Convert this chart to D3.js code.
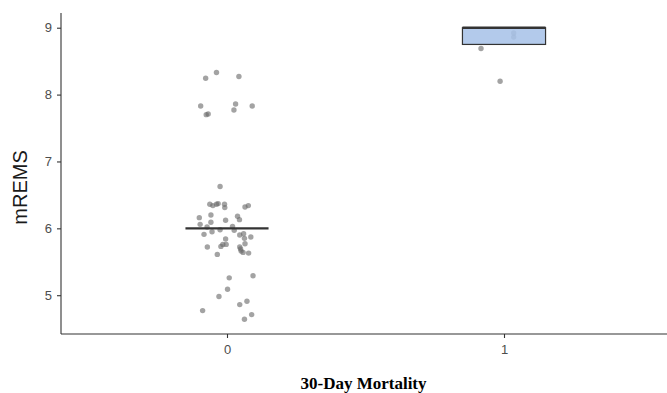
<!DOCTYPE html>
<html>
<head>
<meta charset="utf-8">
<script src="https://cdn.jsdelivr.net/npm/d3@7"></script>
<style>
  html, body { margin: 0; padding: 0; background: #fff; }
  svg { display: block; }
</style>
</head>
<body>
<svg id="chart" width="667" height="393"></svg>
<script>
// ---- data ----
const categories = ["0", "1"];
const yTicks = [5, 6, 7, 8, 9];

// box summaries per category
const boxQ1 = [6, 8.75];
const boxMedian = [6, 9];
const boxQ3 = [6, 9];

// jittered points (horizontal offset in category units, mREMS value)
const group0Offset = [-0.077, -0.038, 0.043, -0.095, 0.031, 0.091, -0.075, -0.068, 0.025,
  -0.025, -0.062, -0.051, -0.038, -0.032, -0.009, -0.008, 0.065, 0.077,
  -0.100, -0.058, -0.005, 0.038, 0.045, -0.097, -0.072, -0.058, -0.054, -0.025, 0.020, 0.026,
  -0.083, -0.005, 0.046, 0.060, 0.063, 0.086, -0.071, -0.022, -0.015, -0.003,
  0.046, 0.049, 0.051, 0.065, 0.058, 0.078, -0.035,
  0.008, 0.094, 0.002, -0.029, 0.072, 0.046, -0.088, 0.089, 0.063];
const group0Value = [8.245, 8.33, 8.27, 7.83, 7.86, 7.83, 7.70, 7.71, 7.77,
  6.625, 6.36, 6.34, 6.36, 6.37, 6.36, 6.31, 6.32, 6.34,
  6.16, 6.20, 6.12, 6.18, 6.13, 6.06, 6.02, 6.09, 5.95, 5.98, 6.03, 5.97,
  5.91, 5.84, 5.90, 5.92, 5.85, 5.87, 5.72, 5.73, 5.76, 5.76,
  5.72, 5.69, 5.66, 5.77, 5.64, 5.63, 5.61,
  5.26, 5.29, 5.09, 4.98, 4.91, 4.86, 4.77, 4.71, 4.64];
const group1Offset = [-0.083, -0.014, 0.035, 0.035];
const group1Value = [8.69, 8.20, 8.92, 8.86];

// ---- layout ----
const svg = d3.select("#chart");
const mLeft = 61, mRight = 670, mTop = 13, mBottom = 334;

const xBand = d3.scalePoint().domain(categories).range([227, 504]);
const step = xBand("1") - xBand("0");
const y = d3.scaleLinear().domain([4.42, 9.22]).range([mBottom, mTop]);

const axisColor = "#333333";

// points
const pts = [];
group0Offset.forEach((o, i) => pts.push({ c: "0", o, v: group0Value[i] }));
group1Offset.forEach((o, i) => pts.push({ c: "1", o, v: group1Value[i] }));

svg.append("g").selectAll("circle").data(pts).join("circle")
  .attr("cx", d => xBand(d.c) + d.o * step)
  .attr("cy", d => y(d.v))
  .attr("r", 2.7)
  .attr("fill", "#666666")
  .attr("fill-opacity", 0.6);

// boxes
const boxW = 0.3 * step;
const boxes = categories.map((c, i) => ({ c, q1: boxQ1[i], med: boxMedian[i], q3: boxQ3[i] }));
const bg = svg.append("g");
boxes.forEach(b => {
  const x0 = xBand(b.c) - boxW / 2;
  if (b.q3 > b.q1) {
    bg.append("rect")
      .attr("x", x0).attr("y", y(b.q3))
      .attr("width", boxW).attr("height", y(b.q1) - y(b.q3))
      .attr("fill", "#a8c3e8").attr("fill-opacity", 0.88)
      .attr("stroke", axisColor).attr("stroke-width", 1.2);
  }
  bg.append("line")
    .attr("x1", x0).attr("x2", x0 + boxW)
    .attr("y1", y(b.med)).attr("y2", y(b.med))
    .attr("stroke", axisColor).attr("stroke-width", 2.4);
});

// y axis
const yAxis = svg.append("g").attr("transform", `translate(${mLeft},0)`)
  .call(d3.axisLeft(y).tickValues(yTicks).tickSize(4).tickPadding(5).tickFormat(d3.format("d")));
yAxis.select(".domain").remove();
yAxis.append("line").attr("x1", 0).attr("x2", 0).attr("y1", mTop).attr("y2", mBottom)
  .attr("stroke", axisColor).attr("stroke-width", 1.1);
yAxis.selectAll(".tick line").attr("stroke", axisColor).attr("stroke-width", 1.1);
yAxis.selectAll(".tick text").attr("fill", "#4d4d4d")
  .style("font-family", "'Liberation Sans', Arial, sans-serif").style("font-size", "13px");

// x axis
const xAxis = svg.append("g").attr("transform", `translate(0,${mBottom})`)
  .call(d3.axisBottom(xBand).tickSize(4).tickPadding(7));
xAxis.select(".domain").remove();
xAxis.append("line").attr("x1", mLeft).attr("x2", mRight).attr("y1", 0).attr("y2", 0)
  .attr("stroke", axisColor).attr("stroke-width", 1.1);
xAxis.selectAll(".tick line").attr("stroke", axisColor).attr("stroke-width", 1.1);
xAxis.selectAll(".tick text").attr("fill", "#4d4d4d")
  .style("font-family", "'Liberation Sans', Arial, sans-serif").style("font-size", "13px");

// titles
svg.append("text")
  .attr("transform", `translate(27,${(mTop + mBottom) / 2 + 14}) rotate(-90)`)
  .attr("text-anchor", "middle")
  .attr("fill", "#1a1a1a")
  .style("font-family", "'Liberation Sans', Arial, sans-serif")
  .style("font-size", "20px")
  .text("mREMS");

svg.append("text")
  .attr("x", (mLeft + mRight) / 2 - 2).attr("y", 389)
  .attr("text-anchor", "middle")
  .attr("fill", "#000")
  .style("font-family", "'Liberation Serif', 'Times New Roman', serif")
  .style("font-weight", "bold")
  .style("font-size", "17px")
  .text("30-Day Mortality");
</script>
</body>
</html>
